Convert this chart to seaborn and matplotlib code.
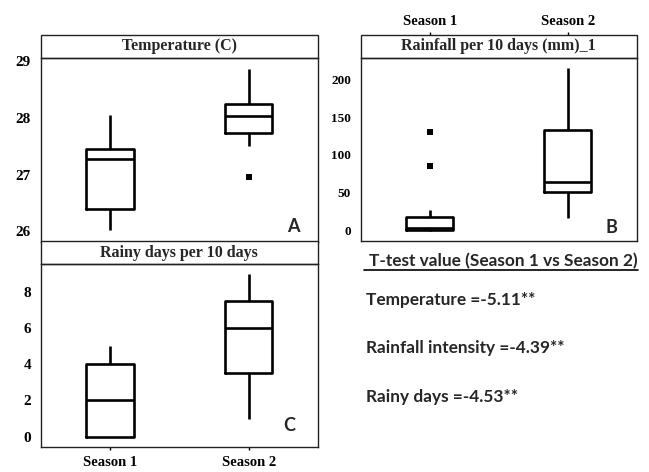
import numpy as np
import pandas as pd
import matplotlib
matplotlib.use('Agg')
import matplotlib.pyplot as plt
import seaborn as sns
from matplotlib.patches import Rectangle
from matplotlib.lines import Line2D

# categories
seasons = ['Season 1', 'Season 2']

# box summaries: whisker low, Q1, median, Q3, whisker high
temp_s1 = [26.03, 26.40, 27.28, 27.46, 28.05]
temp_s2 = [27.51, 27.73, 28.04, 28.24, 28.86]
temp_outliers = {'Season 1': [], 'Season 2': [26.96]}

rain_s1 = [0.0, 1.0, 4.0, 19.0, 27.0]
rain_s2 = [17.5, 51.0, 64.0, 133.0, 215.0]
rain_outliers = {'Season 1': [86.0, 130.0], 'Season 2': []}

rainy_s1 = [0.0, 0.0, 2.0, 4.0, 5.0]
rainy_s2 = [1.0, 3.5, 6.0, 7.5, 9.0]
rainy_outliers = {'Season 1': [], 'Season 2': []}

# t-test text
ttest_title = 'T-test value (Season 1 vs Season 2)'
ttest_lines = ['Temperature =-5.11**', 'Rainfall intensity =-4.39**', 'Rainy days =-4.53**']

SERIF = 'Liberation Serif'
SANS = 'Lato'
STRIP_PX = 22.5


def draw_panel(ax, s1, s2, outliers, title, ylim, yticks, tick_size, letter, letter_xy):
    df = pd.DataFrame({'season': ['Season 1'] * len(s1) + ['Season 2'] * len(s2),
                       'value': s1 + s2})
    sns.boxplot(data=df, x='season', y='value', order=seasons, whis=(0, 100),
                width=0.34, fill=False, color='black', linewidth=1.9,
                showcaps=False, ax=ax)

    # outliers as separate points
    out_x, out_y = [], []
    for s in seasons:
        for v in outliers[s]:
            out_x.append(s)
            out_y.append(v)
    if out_x:
        out_df = pd.DataFrame({'season': out_x, 'value': out_y})
        sns.stripplot(data=out_df, x='season', y='value', order=seasons, jitter=False,
                      marker='s', color='black', size=4.5, linewidth=0, ax=ax)

    ax.set_xlim(-0.5, 1.5)
    ax.set_ylim(*ylim)
    ax.set_yticks(yticks)
    ax.set_xlabel('')
    ax.set_ylabel('')
    for sp in ax.spines.values():
        sp.set_visible(True)
        sp.set_linewidth(1.0)
        sp.set_color('#222222')
    ax.tick_params(axis='both', direction='out', length=2.5, width=1.0, pad=4.5,
                   labelsize=tick_size, colors='black')
    for lab in ax.get_yticklabels():
        lab.set_fontfamily(SERIF)
        lab.set_fontweight('bold')

    # strip title on top of the panel
    strip_h = STRIP_PX / (ax.get_position().height * 472)
    ax.add_patch(Rectangle((0, 1), 1, strip_h, transform=ax.transAxes, clip_on=False,
                           facecolor='white', edgecolor='#222222', linewidth=1.0))
    ax.text(0.5, 1 + strip_h / 2, title, transform=ax.transAxes, ha='center', va='center',
            fontsize=11.5, fontfamily=SERIF, fontweight='bold')

    ax.text(letter_xy[0], letter_xy[1], letter, transform=ax.transAxes, ha='center',
            va='center', fontsize=13, fontfamily=SANS, fontweight='bold')
    return strip_h


def main():
    sns.set_style('white')
    plt.rcParams['font.family'] = [SERIF, 'DejaVu Serif']

    fig = plt.figure(figsize=(6.49, 4.72), dpi=100)

    ax_a = fig.add_axes([0.0627, 0.4879, 0.4273, 0.3899])
    ax_b = fig.add_axes([0.5558, 0.4900, 0.4253, 0.3877])
    ax_c = fig.add_axes([0.0627, 0.0536, 0.4273, 0.3871])

    draw_panel(ax_a, temp_s1, temp_s2, temp_outliers, 'Temperature (C)',
               (25.82, 29.06), [26, 27, 28, 29], 11, 'A', (0.91, 0.083))
    ax_a.tick_params(axis='x', bottom=False, labelbottom=False)

    strip_b = draw_panel(ax_b, rain_s1, rain_s2, rain_outliers, 'Rainfall per 10 days (mm)_1',
                         (-12.8, 228), [0, 50, 100, 150, 200], 9.5, 'B', (0.909, 0.072))
    ax_b.tick_params(axis='x', bottom=False, labelbottom=False)
    # season labels sit above the strip in panel B
    sec = ax_b.secondary_xaxis(1 + strip_b)
    sec.set_xticks([0, 1])
    sec.set_xticklabels(seasons)
    sec.spines['top'].set_visible(False)
    sec.tick_params(axis='x', direction='out', length=2.5, width=1.0, pad=3,
                    labelsize=10.5, colors='black')
    for lab in sec.get_xticklabels():
        lab.set_fontfamily(SERIF)
        lab.set_fontweight('bold')

    draw_panel(ax_c, rainy_s1, rainy_s2, rainy_outliers, 'Rainy days per 10 days',
               (-0.55, 9.53), [0, 2, 4, 6, 8], 11, 'C', (0.895, 0.117))
    ax_c.tick_params(axis='x', bottom=True, labelbottom=True, labelsize=10.5, pad=4)
    for lab in ax_c.get_xticklabels():
        lab.set_fontfamily(SERIF)
        lab.set_fontweight('bold')

    # t-test block
    fig.text(369.3 / 649, 1 - 260.7 / 472, ttest_title, ha='left', va='center',
             fontsize=12.4, fontfamily=SANS, fontweight='bold')
    fig.add_artist(Line2D([364 / 649, 637.7 / 649], [1 - 269.5 / 472, 1 - 269.5 / 472],
                          color='black', linewidth=1.2))
    for txt, yy in zip(ttest_lines, [300, 348.3, 396.7]):
        fig.text(366.5 / 649, 1 - yy / 472, txt, ha='left', va='center',
                 fontsize=12.4, fontfamily=SANS, fontweight='bold')

    fig.savefig('out.png', dpi=100)


if __name__ == '__main__':
    main()
